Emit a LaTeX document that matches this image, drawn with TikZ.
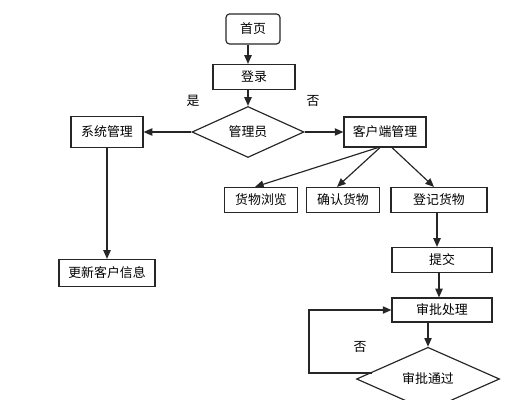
\documentclass[tikz,border=0pt]{standalone}
\usepackage{fontspec}
\setmainfont{Noto Sans CJK SC}
\usetikzlibrary{arrows.meta,shapes.geometric,calc}
\begin{document}
\begin{tikzpicture}[x=0.03cm,y=-0.03cm,
  every node/.style={font=\fontsize{11}{13}\selectfont, text=black},
  box/.style={draw=black!85, line width=1pt, inner sep=0pt, rectangle},
  dia/.style={draw=black!85, line width=1pt, inner sep=0pt, diamond},
  arr/.style={draw=black!85, line width=1pt, -{Triangle[length=2.6mm,width=2.2mm]}},
  ln/.style={draw=black!85, line width=1pt}]
\useasboundingbox (0,0) rectangle (512,400);
\clip (0,0) rectangle (512,400);
\node[box, rounded corners=3pt, minimum width=1.62cm, minimum height=0.9cm] (sy) at (253,29) {首页};
\node[box, minimum width=2.46cm, minimum height=0.75cm] (dl) at (254,77) {登录};
\node[dia, minimum width=3.36cm, minimum height=1.53cm] (gly) at (248,132) {管理员};
\node[box, minimum width=2.16cm, minimum height=0.93cm] (xt) at (107,132) {系统管理};
\node[box, minimum width=2.88cm, minimum height=0.81cm] (gx) at (107,273) {更新客户信息};
\node[box, minimum width=2.46cm, minimum height=0.9cm] (kh) at (385,132) {客户端管理};
\node[box, minimum width=2.19cm, minimum height=0.75cm] (ll) at (261,200) {货物浏览};
\node[box, minimum width=2.19cm, minimum height=0.75cm] (qr) at (343,200) {确认货物};
\node[box, minimum width=2.88cm, minimum height=0.75cm] (dj) at (439,200) {登记货物};
\node[box, minimum width=3.0cm, minimum height=0.75cm] (tj) at (442,260) {提交};
\node[box, minimum width=3.0cm, minimum height=0.72cm] (cl) at (442,310) {审批处理};
\node[dia, minimum width=4.29cm, minimum height=1.56cm] (tg) at (428,379) {审批通过};
\node (shi) at (193,101) {是};
\node (fou1) at (313,101) {否};
\node (fou2) at (360,347) {否};
\draw[arr] (sy.south -| gly.north) -- (dl.north -| gly.north);
\draw[arr] (dl.south -| gly.north) -- (gly.north);
\draw[arr] (gly.west) -- (xt.east);
\draw[arr] (gly.east) -- (kh.west);
\draw[arr] (xt.south) -- (gx.north);
\draw[arr] ($(kh.south)+(-7,0)$) -- ($(ll.north)+(-6,0)$);
\draw[arr] ($(kh.south)+(-5,0)$) -- ($(qr.north)+(-6,0)$);
\draw[arr] ($(kh.south)+(7,0)$) -- ($(dj.north)+(-5,0)$);
\draw[arr] ($(dj.south)+(-2,0)$) -- ($(tj.north)+(-5,0)$);
\draw[arr] ($(tj.south)+(-3,0)$) -- ($(cl.north)+(-3,0)$);
\draw[arr] ($(cl.south)+(-14,0)$) -- (tg.north);
\draw[arr] ($(tg.west)+(16,-6)$) -- ++(-63,0) |- (cl.west);
\end{tikzpicture}
\end{document}
